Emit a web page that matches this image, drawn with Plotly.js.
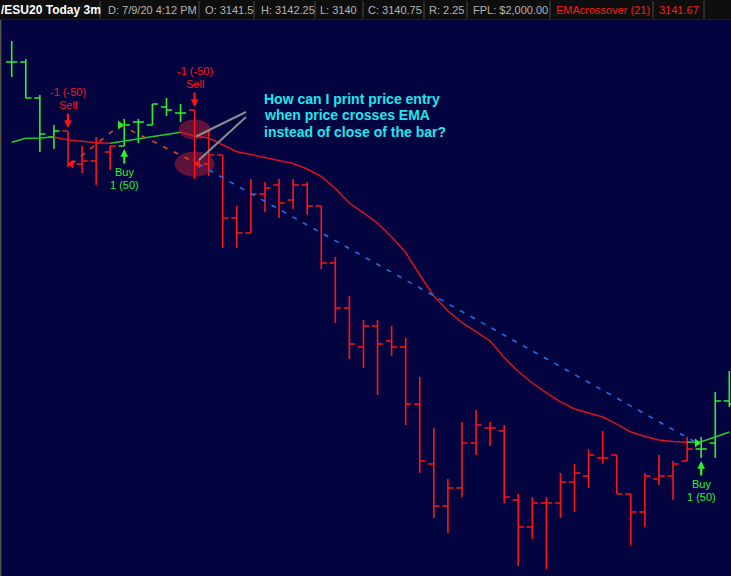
<!DOCTYPE html>
<html>
<head>
<meta charset="utf-8">
<script src="https://cdn.plot.ly/plotly-3.0.1.min.js"></script>
<style>
  html, body { margin: 0; padding: 0; background: #0e0e0e; overflow: hidden; }
  #chart { width: 731px; height: 576px; }
</style>
</head>
<body>
<div id="chart"></div>
<script>
// /ESU20 3-minute bars with a 21-period EMA crossover strategy
const bars = [0,1,2,3,4,5,6,7,8,9,10,11,12,13,14,15,16,17,18,19,20,21,22,23,24,25,
              26,27,28,29,30,31,32,33,34,35,36,37,38,39,40,41,42,43,44,45,46,47,48,49,50,51];

const open = [3172.5,3172.5,3169.5,3166.25,3166.75,3164,3164.25,3165,3165.5,3167.5,3167.25,3168.75,3168.25,
              3168.5,3164,3164.75,3159.5,3158.25,3161.5,3162.25,3161,3162.25,3160.5,3155.75,3152,3148.75,
              3150.5,3149.25,3148.75,3144,3139,3135.5,3137,3140.75,3142,3141.75,3136,3133.75,3135.75,3135.75,
              3137.5,3138,3139.5,3139.75,3136.5,3135,3137.75,3138,3139.25,3140.25,3140.75,3144.25];
const high = [3174.25,3172.75,3169.75,3167.25,3166.75,3165.5,3166.25,3165.5,3167.75,3167.75,3169,3169.5,3169,
              3168.5,3166.75,3164.75,3160.5,3162.75,3162.5,3162.75,3162.75,3162.5,3160.5,3156.25,3153,3151,
              3151,3150.5,3149.5,3146.25,3142,3137.75,3142.5,3143.5,3142.5,3142.25,3136.5,3136.25,3136.25,3138.25,
              3139,3140.25,3141.75,3139.75,3136.5,3138.25,3139.75,3139.25,3141.25,3141.25,3145,3146.75];
const low = [3171.25,3169.5,3165,3165.25,3163.75,3163.25,3162.25,3163.5,3165.5,3165.75,3167.25,3168,3167.5,
             3162.75,3163,3157,3157,3158.25,3160,3159.5,3160.25,3159.75,3155.25,3150.75,3147.75,3147,
             3144.75,3148,3142.25,3138.25,3134.5,3133.25,3136.25,3139.75,3140.5,3135.75,3130.5,3132.75,3130.25,3134.5,
             3135,3137,3139,3136.5,3132.25,3133.75,3137.25,3136,3139.25,3139.5,3139.5,3143.75];
const close = [3172.5,3169.5,3166.5,3166.75,3164,3164.25,3165.75,3165.5,3167.25,3167.5,3169,3168.5,3168.25,
               3164,3164.75,3159.5,3158.25,3161.5,3162,3160.75,3162.25,3160.5,3155.75,3152,3149,3150.5,
               3149,3148.75,3144,3139.25,3135.5,3137,3140.75,3142.25,3142,3136.25,3133.75,3135.75,3135.75,3137.5,
               3138.25,3139.75,3139.5,3136.5,3135,3138,3138,3139,3140.25,3140.25,3144.25,3144];

const ema21 = [3165.81,3166.14,3166.17,3166.25,3166.0,3165.89,3165.77,3165.72,3165.91,3166.08,3166.27,3166.45,3166.64,
               3166.33,3166.17,3165.58,3165.02,3164.79,3164.56,3164.33,3164.04,3163.58,3162.96,3161.96,3160.75,3159.92,
               3159.08,3157.92,3156.62,3154.75,3153.0,3151.75,3150.79,3150.04,3149.25,3147.87,3146.71,3145.75,3144.92,3144.17,
               3143.58,3143.25,3142.92,3142.33,3141.67,3141.29,3141.0,3140.87,3140.81,3140.86,3141.25,3141.67];

// strategy signals
const signalBar   = [4, 8, 13, 49];
const signalSide  = ['S', 'L', 'S', 'L'];
const signalName  = ['Sell', 'Buy', 'Sell', 'Buy'];
const signalQty   = ['-1 (-50)', '1 (50)', '-1 (-50)', '1 (50)'];
const fillPrice   = [3164, 3167.25, 3164, 3140.75];

// status bar
const headerText = ['/ESU20 Today 3m', 'D: 7/9/20 4:12 PM', 'O: 3141.5', 'H: 3142.25', 'L: 3140',
                    'C: 3140.75', 'R: 2.25', 'FPL: $2,000.00', 'EMAcrossover (21)', '3141.67'];
const questionLines = ['How can I print price entry', 'when price crosses EMA', 'instead of close of the bar?'];

// ---- styling / layout constants ----
const W = 731, H = 576, TOP = 20;
const RED = '#ff1414', GREEN = '#2bf02b', EMA_RED = '#d8141e', EMA_GREEN = '#22d022';
const headerLeft = [-1, 106, 203, 259, 318, 366, 427, 471, 554, 657];
const headerSep = [100, 199, 254, 315, 363, 424, 467, 550, 653, 704];
const pxX = x => x / W;
const pxY = y => 1 - (y - TOP) / (H - TOP);

// position held on each bar (long before the first signal)
const position = [];
{
  let p = 'L';
  bars.forEach(i => {
    const k = signalBar.indexOf(i);
    if (k >= 0) p = signalSide[k];
    position.push(p);
  });
}

function barTrace(side, color) {
  const idx = bars.filter(i => position[i] === side);
  return {
    type: 'ohlc',
    x: idx, open: idx.map(i => open[i]), high: idx.map(i => high[i]),
    low: idx.map(i => low[i]), close: idx.map(i => close[i]),
    tickwidth: 0.4,
    line: { width: 1.6 },
    increasing: { line: { color: color, width: 1.6 } },
    decreasing: { line: { color: color, width: 1.6 } },
    hoverinfo: 'skip'
  };
}

function emaTrace(side, color) {
  const y = bars.map(i => (position[i] === side || (i + 1 < bars.length && position[i + 1] === side)) ? ema21[i] : null);
  return { type: 'scatter', mode: 'lines', x: bars, y: y, connectgaps: false,
           line: { color: color, width: 1.5 }, hoverinfo: 'skip' };
}

const markOffset = s => (s === 'S' ? 0.25 : -0.3);
const tradeTraces = [];
for (let k = 0; k + 1 < signalBar.length; k++) {
  const pnl = signalSide[k] === 'S' ? fillPrice[k] - fillPrice[k + 1] : fillPrice[k + 1] - fillPrice[k];
  tradeTraces.push({
    type: 'scatter', mode: 'lines',
    x: [signalBar[k] + markOffset(signalSide[k]), signalBar[k + 1] + markOffset(signalSide[k + 1])],
    y: [fillPrice[k], fillPrice[k + 1]],
    line: { color: pnl > 0 ? '#1e6fe8' : '#e0441e', width: 1.6, dash: '5px,7px' },
    hoverinfo: 'skip'
  });
}

const fillMarks = {
  type: 'scatter', mode: 'markers',
  x: signalBar.map((b, k) => b + markOffset(signalSide[k])),
  y: fillPrice,
  marker: {
    symbol: signalSide.map(s => s === 'S' ? 'triangle-left' : 'triangle-right'),
    color: signalSide.map(s => s === 'S' ? RED : GREEN),
    size: 8, line: { width: 0 }
  },
  hoverinfo: 'skip'
};

const data = [emaTrace('L', EMA_GREEN), emaTrace('S', EMA_RED),
              ...tradeTraces, barTrace('L', GREEN), barTrace('S', RED), fillMarks];

const annotations = [];
const shapes = [];

// signal arrows and labels
signalBar.forEach((b, k) => {
  const sell = signalSide[k] === 'S';
  const col = sell ? RED : GREEN;
  const yv = sell ? high[b] : low[b];
  const dir = sell ? 1 : -1;
  annotations.push({ x: b, y: yv, xref: 'x', yref: 'y', text: '', showarrow: true,
                     ax: 0, ay: -19 * dir, standoff: 3, arrowhead: 2, arrowsize: 0.7,
                     arrowwidth: 2.2, arrowcolor: col });
  annotations.push({ x: b, y: yv, xref: 'x', yref: 'y', text: signalName[k], showarrow: false,
                     yshift: 26 * dir, font: { family: 'Liberation Sans, Arial', size: 11, color: col } });
  annotations.push({ x: b, y: yv, xref: 'x', yref: 'y', text: signalQty[k], showarrow: false,
                     yshift: 39 * dir, font: { family: 'Liberation Sans, Arial', size: 11, color: col } });
});

// highlight of the crossing bar: EMA touch and actual fill
const hb = signalBar[2];
shapes.push({ type: 'circle', xref: 'x', yref: 'y', layer: 'below',
              x0: hb - 1.14, x1: hb + 1.14, y0: ema21[hb] + 0.55 - 0.83, y1: ema21[hb] + 0.55 + 0.83,
              fillcolor: 'rgba(185,35,55,0.5)', line: { width: 0 } });
shapes.push({ type: 'circle', xref: 'x', yref: 'y', layer: 'below',
              x0: hb - 1.42, x1: hb + 1.42, y0: fillPrice[2] - 1.05, y1: fillPrice[2] + 1.05,
              fillcolor: 'rgba(185,35,55,0.5)', line: { width: 0 } });

// callout lines from the question to the two highlights
shapes.push({ type: 'line', xref: 'paper', yref: 'paper', x0: pxX(246), y0: pxY(112), x1: pxX(196), y1: pxY(136.5),
              line: { color: '#8c8c8c', width: 2 } });
shapes.push({ type: 'line', xref: 'paper', yref: 'paper', x0: pxX(246), y0: pxY(117), x1: pxX(199), y1: pxY(160),
              line: { color: '#8c8c8c', width: 2 } });

questionLines.forEach((t, i) => {
  annotations.push({ xref: 'paper', yref: 'paper', x: pxX(262), y: pxY(98.5 + i * 16.7),
                     xanchor: 'left', yanchor: 'middle', text: t, showarrow: false,
                     font: { family: 'Liberation Sans, Arial', size: 14, weight: 700, color: '#20e6ee' } });
});

// status bar
headerText.forEach((t, i) => {
  const first = i === 0;
  const red = i >= 8;
  annotations.push({ xref: 'paper', yref: 'paper', x: pxX(headerLeft[i]), y: pxY(9.5),
                     xanchor: 'left', yanchor: 'middle', text: t, showarrow: false,
                     font: { family: 'Liberation Sans, Arial', size: first ? 12 : 11, weight: first ? 700 : 400,
                             color: first ? '#ffffff' : (red ? '#ff1a1a' : '#b4b4b4') } });
});
headerSep.forEach(x => {
  shapes.push({ type: 'line', xref: 'paper', yref: 'paper', x0: pxX(x), x1: pxX(x), y0: pxY(1), y1: pxY(18.5),
                line: { color: '#4a4a4a', width: 1 } });
});
shapes.push({ type: 'line', xref: 'paper', yref: 'paper', x0: 0, x1: 1, y0: pxY(19.5), y1: pxY(19.5),
              line: { color: '#1a1a3a', width: 1 } });
shapes.push({ type: 'line', xref: 'paper', yref: 'paper', x0: pxX(0.7), x1: pxX(0.7), y0: 0, y1: 1,
              line: { color: '#55554a', width: 1.4 } });

const layout = {
  width: W, height: H,
  margin: { l: 0, r: 0, t: TOP, b: 0, pad: 0 },
  paper_bgcolor: '#0e0e0e',
  plot_bgcolor: '#03033f',
  showlegend: false,
  hovermode: false,
  dragmode: false,
  xaxis: { range: [-0.832, 51.12], visible: false, showgrid: false, zeroline: false,
           rangeslider: { visible: false }, fixedrange: true },
  yaxis: { range: [3129.667, 3176], visible: false, showgrid: false, zeroline: false, fixedrange: true },
  annotations: annotations,
  shapes: shapes
};

Plotly.newPlot('chart', data, layout, { displayModeBar: false, staticPlot: true });
</script>
</body>
</html>
